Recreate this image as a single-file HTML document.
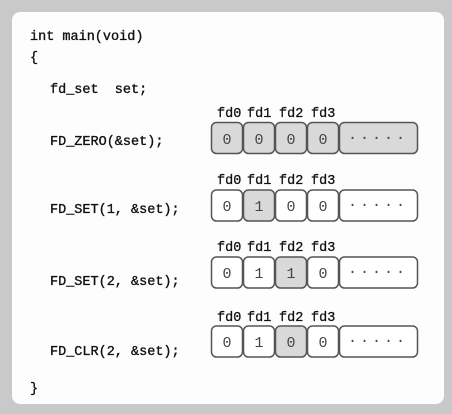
<!DOCTYPE html>
<html><head><style>
html,body{margin:0;padding:0;background:#cacaca;}
svg{display:block}
text{font-family:"Liberation Mono",monospace;}
</style></head><body>
<svg width="452" height="414" viewBox="0 0 452 414" xmlns="http://www.w3.org/2000/svg">
<rect x="0" y="0" width="452" height="414" fill="#c9c9c9"/>
<rect x="12" y="12" width="432" height="392" rx="8" fill="#fdfdfd"/>
<g font-size="13.5" fill="#111" stroke="#111" stroke-width="0.35">
<text x="30" y="40">int main(void)</text>
<text x="30" y="61">{</text>
<text x="50" y="93" xml:space="preserve" style="white-space:pre">fd_set  set;</text>
<text x="50" y="145">FD_ZERO(&amp;set);</text>
<text x="50" y="213">FD_SET(1, &amp;set);</text>
<text x="50" y="285">FD_SET(2, &amp;set);</text>
<text x="50" y="355">FD_CLR(2, &amp;set);</text>
<text x="30" y="392">}</text>
</g>
<defs>
<g id="lbl" font-size="13.5" fill="#111" stroke="#111" stroke-width="0.3">
<text x="217" y="0">fd0</text><text x="247" y="0">fd1</text><text x="279" y="0">fd2</text><text x="311" y="0">fd3</text>
</g>
</defs>
<use href="#lbl" y="117"/>
<use href="#lbl" y="184"/>
<use href="#lbl" y="251"/>
<use href="#lbl" y="321"/>
<g stroke="#555" stroke-width="1.5" font-family="Liberation Sans,sans-serif" font-size="15" text-anchor="middle">
<g fill="#d9d9d9">
<rect x="211.5" y="122.5" width="31" height="31" rx="5"/><rect x="243.5" y="122.5" width="31" height="31" rx="5"/><rect x="275.5" y="122.5" width="31" height="31" rx="5"/><rect x="307.5" y="122.5" width="31" height="31" rx="5"/><rect x="339.5" y="122.5" width="78" height="31" rx="5"/>
</g>
<g fill="#fff">
<rect x="211.5" y="190" width="31" height="31" rx="5"/><rect x="243.5" y="190" width="31" height="31" rx="5" fill="#d9d9d9"/><rect x="275.5" y="190" width="31" height="31" rx="5"/><rect x="307.5" y="190" width="31" height="31" rx="5"/><rect x="339.5" y="190" width="78" height="31" rx="5"/>
</g>
<g fill="#fff">
<rect x="211.5" y="257" width="31" height="31" rx="5"/><rect x="243.5" y="257" width="31" height="31" rx="5"/><rect x="275.5" y="257" width="31" height="31" rx="5" fill="#d9d9d9"/><rect x="307.5" y="257" width="31" height="31" rx="5"/><rect x="339.5" y="257" width="78" height="31" rx="5"/>
</g>
<g fill="#fff">
<rect x="211.5" y="326" width="31" height="31" rx="5"/><rect x="243.5" y="326" width="31" height="31" rx="5"/><rect x="275.5" y="326" width="31" height="31" rx="5" fill="#d9d9d9"/><rect x="307.5" y="326" width="31" height="31" rx="5"/><rect x="339.5" y="326" width="78" height="31" rx="5"/>
</g>
<g stroke="none" fill="#444">
<text x="227" y="144">0</text><text x="259" y="144">0</text><text x="291" y="144">0</text><text x="323" y="144">0</text><text x="378" y="142" letter-spacing="3">·····</text>
<text x="227" y="211">0</text><text x="259" y="211">1</text><text x="291" y="211">0</text><text x="323" y="211">0</text><text x="378" y="209" letter-spacing="3">·····</text>
<text x="227" y="278">0</text><text x="259" y="278">1</text><text x="291" y="278">1</text><text x="323" y="278">0</text><text x="378" y="276" letter-spacing="3">·····</text>
<text x="227" y="347">0</text><text x="259" y="347">1</text><text x="291" y="347">0</text><text x="323" y="347">0</text><text x="378" y="345" letter-spacing="3">·····</text>
</g>
</g>
</svg>
</body></html>
